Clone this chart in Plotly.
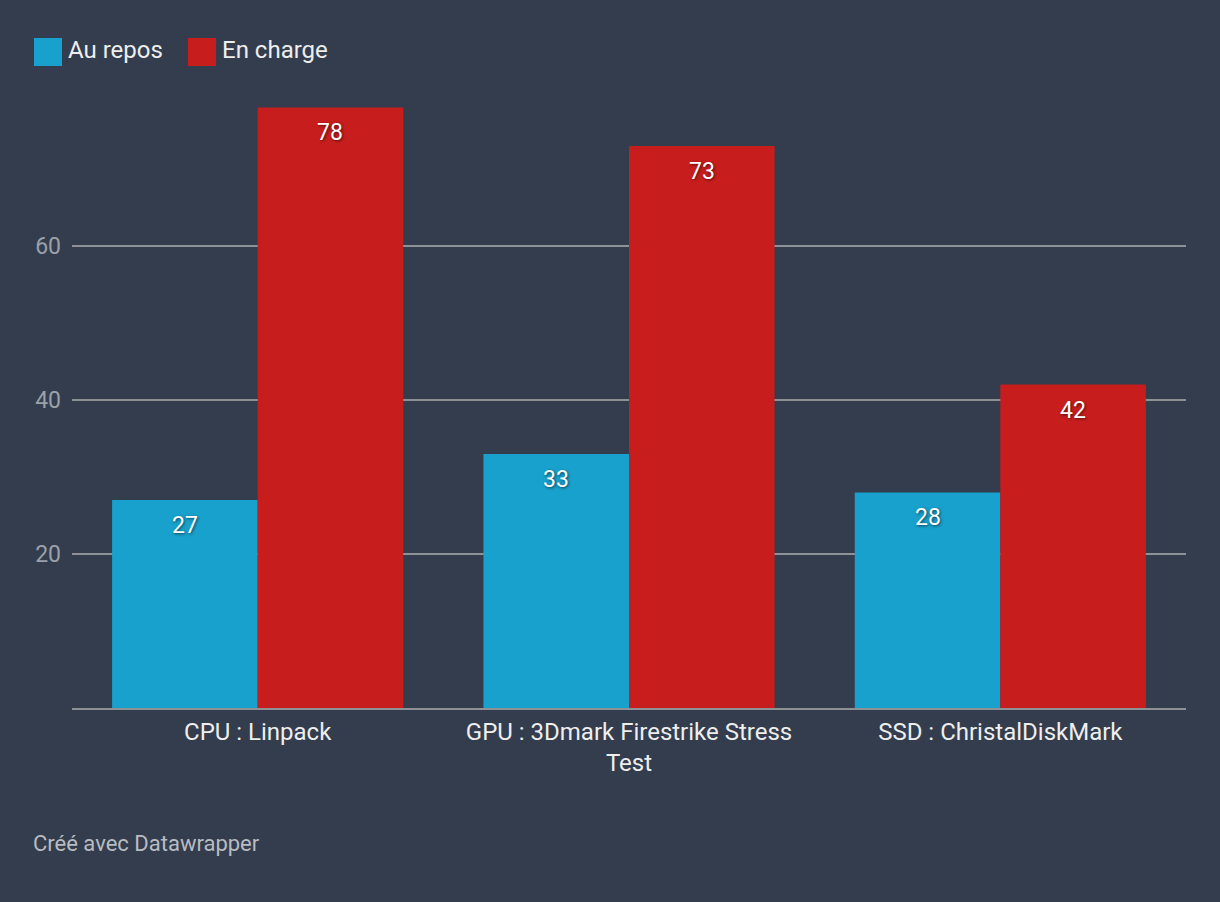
import plotly.graph_objects as go

categories = ["CPU : Linpack", "GPU : 3Dmark Firestrike Stress<br>Test", "SSD : ChristalDiskMark"]
au_repos = [27, 33, 28]
en_charge = [78, 73, 42]
series_names = ["Au repos", "En charge"]
colors = ["#18a1cd", "#c71e1d"]
y_ticks = [20, 40, 60]

BG = "#333d4d"
FONT = "Roboto"
BARGAP = 0.216
PLOT_W = 1220 - 72 - 34
BAR_PX = PLOT_W / len(categories) * (1 - BARGAP) / 2

fig = go.Figure()
for name, vals, col in zip(series_names, [au_repos, en_charge], colors):
    fig.add_trace(go.Bar(
        x=categories, y=vals, name=name, marker=dict(color=col, line=dict(width=0)),
        showlegend=False, hoverinfo="x+y+name",
    ))

annotations = []
for k, vals in enumerate([au_repos, en_charge]):
    shift = (-0.5 if k == 0 else 0.5) * BAR_PX
    for c, v in zip(categories, vals):
        annotations.append(dict(
            x=c, y=v, xref="x", yref="y", text=str(v), showarrow=False,
            xanchor="center", yanchor="top", xshift=shift, yshift=-10,
            font=dict(family=FONT, size=23, color="#ffffff",
                      shadow="1px 1px 3px rgba(0,0,0,0.6)"),
        ))

def px(x):
    return (x - 72) / PLOT_W

def py(y):
    return (708 - y) / 616

annotations += [
    dict(text=series_names[0], xref="paper", yref="paper", x=px(66), y=py(50),
         xanchor="left", yanchor="middle", showarrow=False,
         font=dict(family=FONT, size=24, color="#eeeeee")),
    dict(text=series_names[1], xref="paper", yref="paper", x=px(220), y=py(50),
         xanchor="left", yanchor="middle", showarrow=False,
         font=dict(family=FONT, size=24, color="#eeeeee")),
    dict(text="Créé avec Datawrapper", xref="paper", yref="paper", x=px(31), y=py(843),
         xanchor="left", yanchor="middle", showarrow=False,
         font=dict(family=FONT, size=22, color="#b8bcc2")),
]

fig.update_layout(
    width=1220, height=902,
    paper_bgcolor=BG, plot_bgcolor=BG,
    margin=dict(l=72, r=34, t=92, b=194, pad=0),
    barmode="group", bargap=BARGAP, bargroupgap=0,
    font=dict(family=FONT),
    xaxis=dict(
        showgrid=False, showline=True, linecolor="#8e9196", linewidth=2,
        ticks="", tickfont=dict(family=FONT, size=24, color="#eeeeee"),
        ticklabelstandoff=1,
    ),
    yaxis=dict(
        range=[0, 80], tickvals=y_ticks, ticktext=[str(v) for v in y_ticks],
        showgrid=True, gridcolor="#8e9196", gridwidth=1.5,
        zeroline=False, showline=False, ticks="",
        tickfont=dict(family=FONT, size=23, color="#9ba1a9"),
        ticklabelstandoff=10,
    ),
    shapes=[
        dict(type="rect", xref="paper", yref="paper", x0=px(34), x1=px(62),
             y0=py(66), y1=py(38), fillcolor=colors[0], line=dict(width=0)),
        dict(type="rect", xref="paper", yref="paper", x0=px(188), x1=px(216),
             y0=py(66), y1=py(38), fillcolor=colors[1], line=dict(width=0)),
    ],
    annotations=annotations,
)

fig.write_html("out.html", config={"displayModeBar": False},
               post_script="document.body.style.margin='0';document.body.style.background='" + BG + "';")
